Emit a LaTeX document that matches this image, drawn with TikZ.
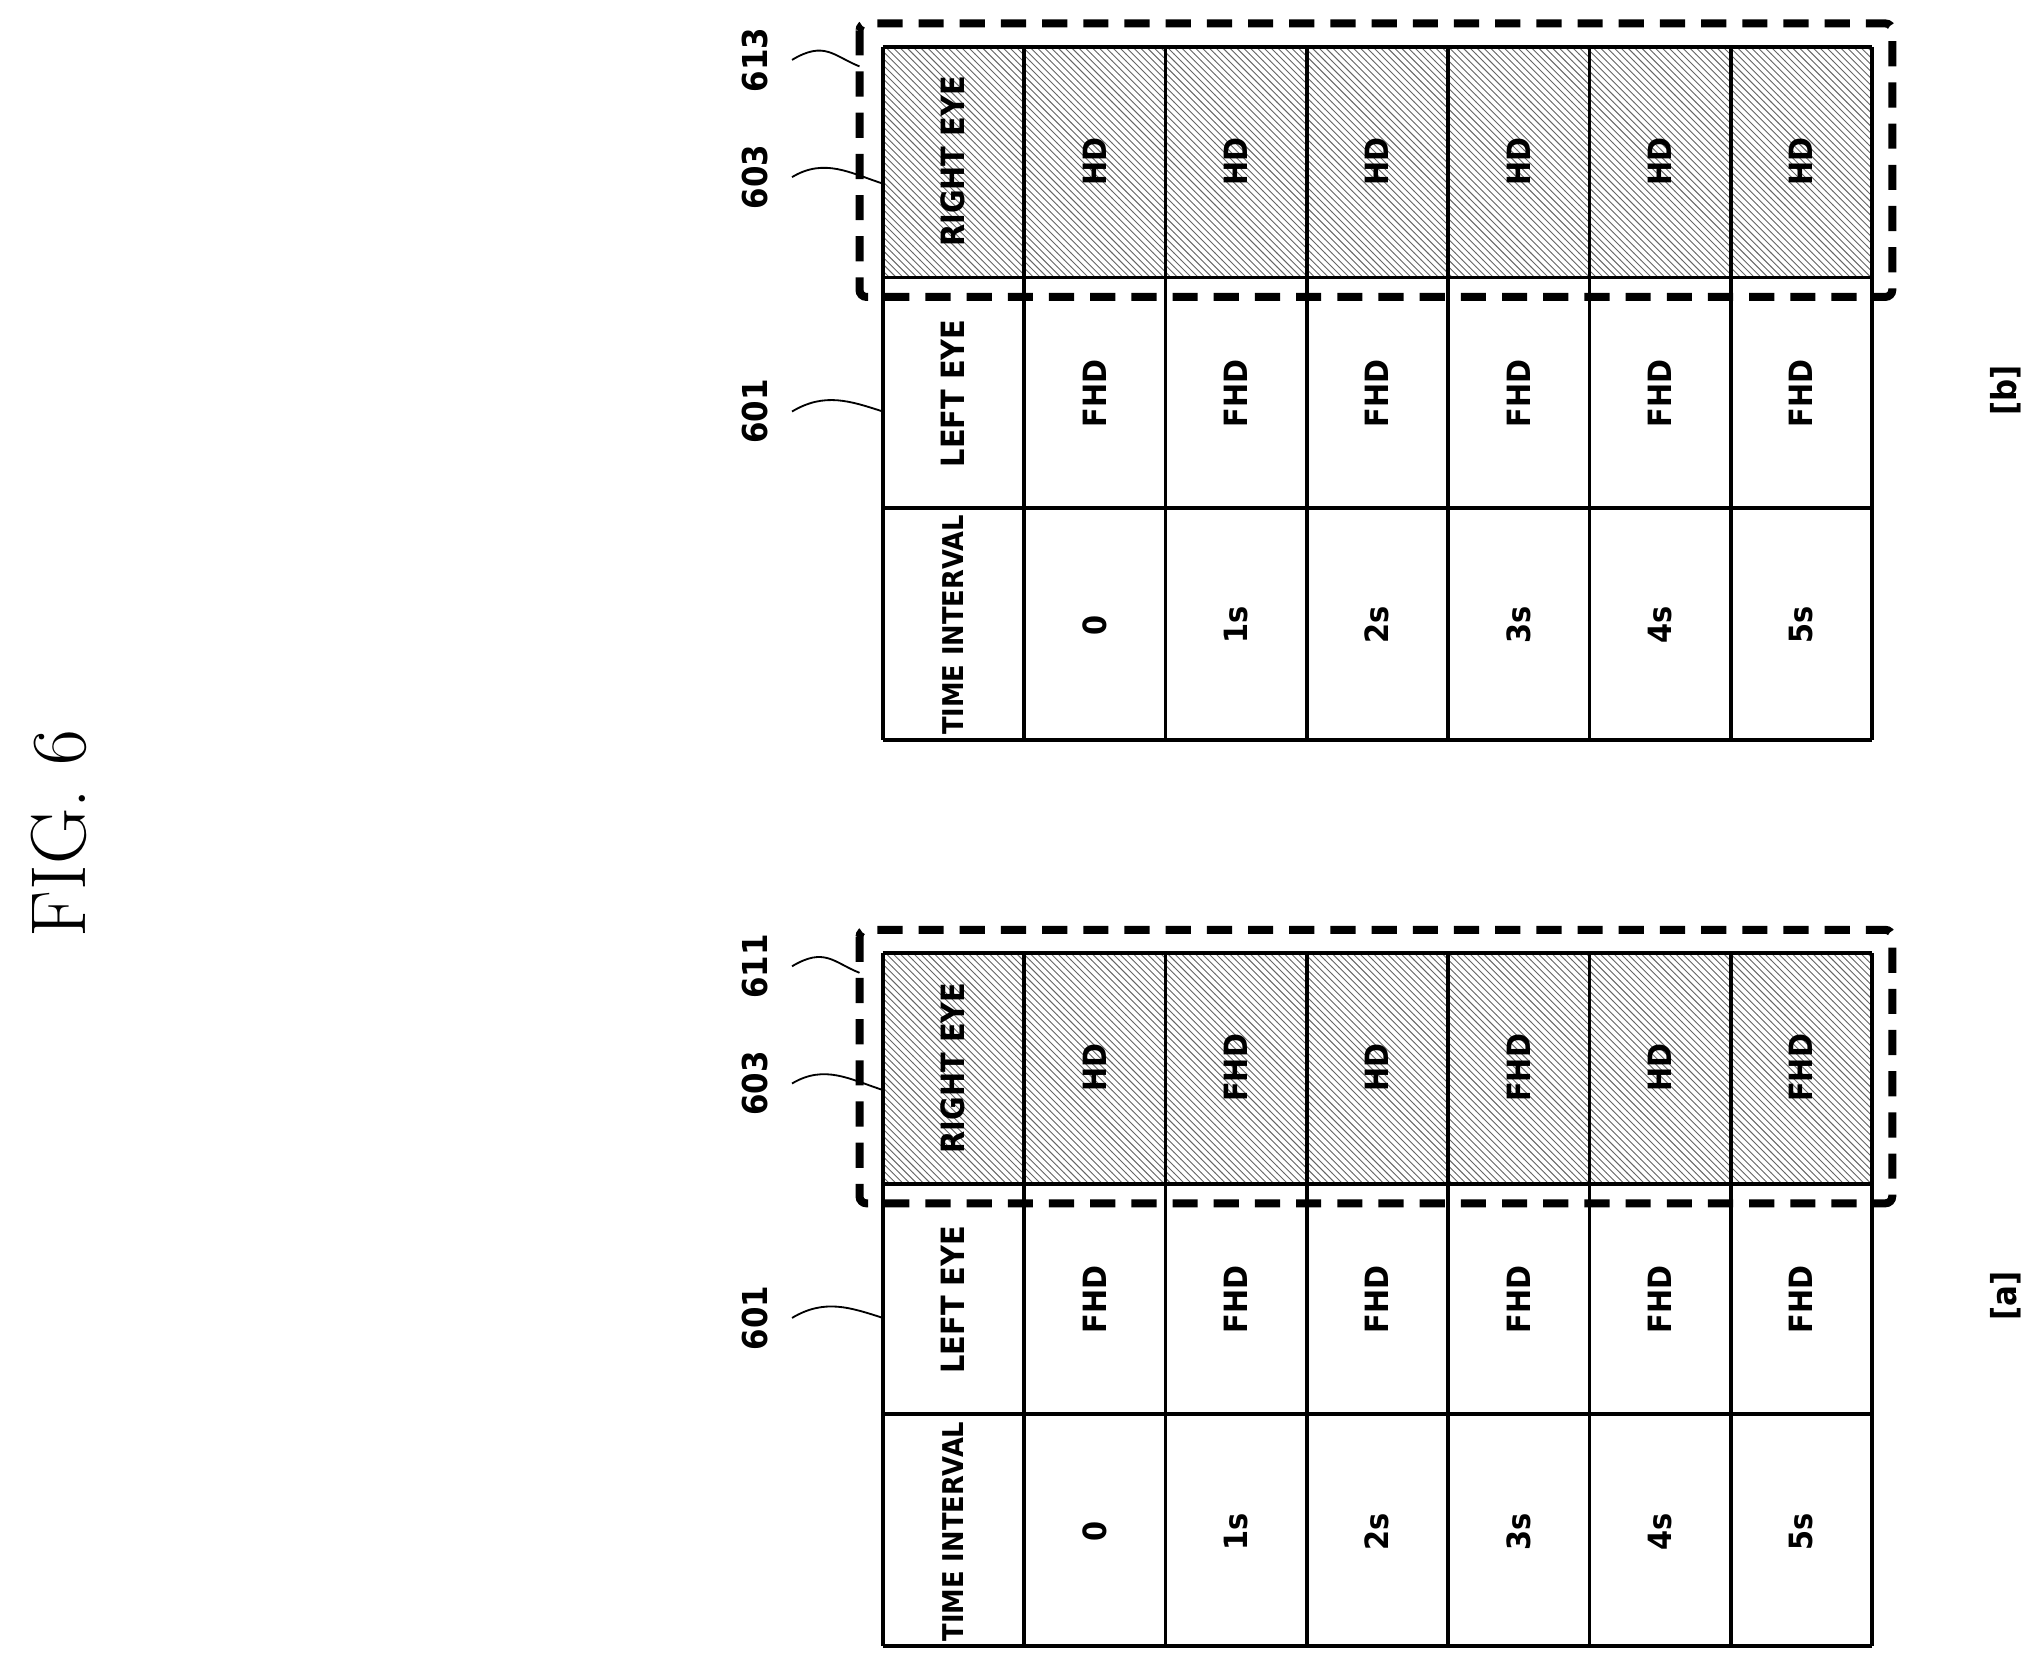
\documentclass[tikz,border=0pt]{standalone}
\usepackage{fontspec}
\setsansfont{DejaVu Sans Condensed}
\usetikzlibrary{patterns}
\tikzset{
  cell/.style={rotate=90, inner sep=0, font=\sffamily\bfseries\fontsize{14}{14}\selectfont},
  grid/.style={line width=1.6pt},
  hatched/.style={pattern=north west lines, pattern color=black!60},
  frame/.style={line width=3.5pt, dash pattern=on 11pt off 7pt, rounded corners=3pt},
  refnum/.style={rotate=90, font=\sffamily\bfseries\fontsize{15}{15}\selectfont},
  leader/.style={line width=0.8pt}
}
\begin{document}
\begin{tikzpicture}[x={(0.02cm,0)}, y={(0,-0.02cm)}]
  \useasboundingbox (0,0) rectangle (1568,1280);
  \node[rotate=90, font=\fontsize{34}{34}\selectfont] (fig) at (45,640) {FIG. 6};

  % table b (top) and table a (bottom)
  \foreach \t/\y/\vals/\tag in {b/36/{HD,HD,HD,HD,HD,HD}/613, a/732/{HD,FHD,HD,FHD,HD,FHD}/611} {
    \fill[hatched] (678,\y) rectangle (1437,\y+177);
    \foreach \i in {0,...,7}
      \draw[grid] (678+108.5*\i,\y) -- (678+108.5*\i,\y+532);
    \foreach \j in {0,177,354,532}
      \draw[grid] (678,\y+\j) -- (1437.5,\y+\j);
    \node[cell] (\t-r0) at (732,\y+88) {RIGHT EYE};
    \node[cell] (\t-l0) at (732,\y+266) {LEFT EYE};
    \node[cell, font=\sffamily\bfseries\fontsize{12.5}{12.5}\selectfont] (\t-t0) at (732,\y+444) {TIME INTERVAL};
    \foreach \v [count=\i] in \vals {
      \node[cell] (\t-r\i) at (732+108.5*\i,\y+88) {\v};
      \node[cell] (\t-l\i) at (732+108.5*\i,\y+266) {FHD};
    }
    \foreach \s [count=\i] in {0,1s,2s,3s,4s,5s}
      \node[cell] (\t-t\i) at (732+108.5*\i,\y+444) {\s};
    \draw[frame] (660,\y-18) rectangle (1453,\y+192);
    % reference numerals
    \node[refnum] (\t-n1) at (580,\y+10) {\tag};
    \node[refnum] (\t-n2) at (580,\y+100) {603};
    \node[refnum] (\t-n3) at (580,\y+280) {601};
    \draw[leader] (\t-n1.south) ++(12,0) coordinate (\t-c1) .. controls +(25,-15) and +(-20,-8) .. (660,\y+15);
    \draw[leader] (\t-n2.south) ++(12,0) coordinate (\t-c2) .. controls +(25,-15) and +(-25,-8) .. (678,\y+105);
    \draw[leader] (\t-n3.south) ++(12,0) coordinate (\t-c3) .. controls +(25,-15) and +(-25,-8) .. (678,\y+280);
  }
  \node[refnum] (tag-b) at (1540,300) {[b]};
  \node[refnum] (tag-a) at (1540,995) {[a]};
\end{tikzpicture}
\end{document}
